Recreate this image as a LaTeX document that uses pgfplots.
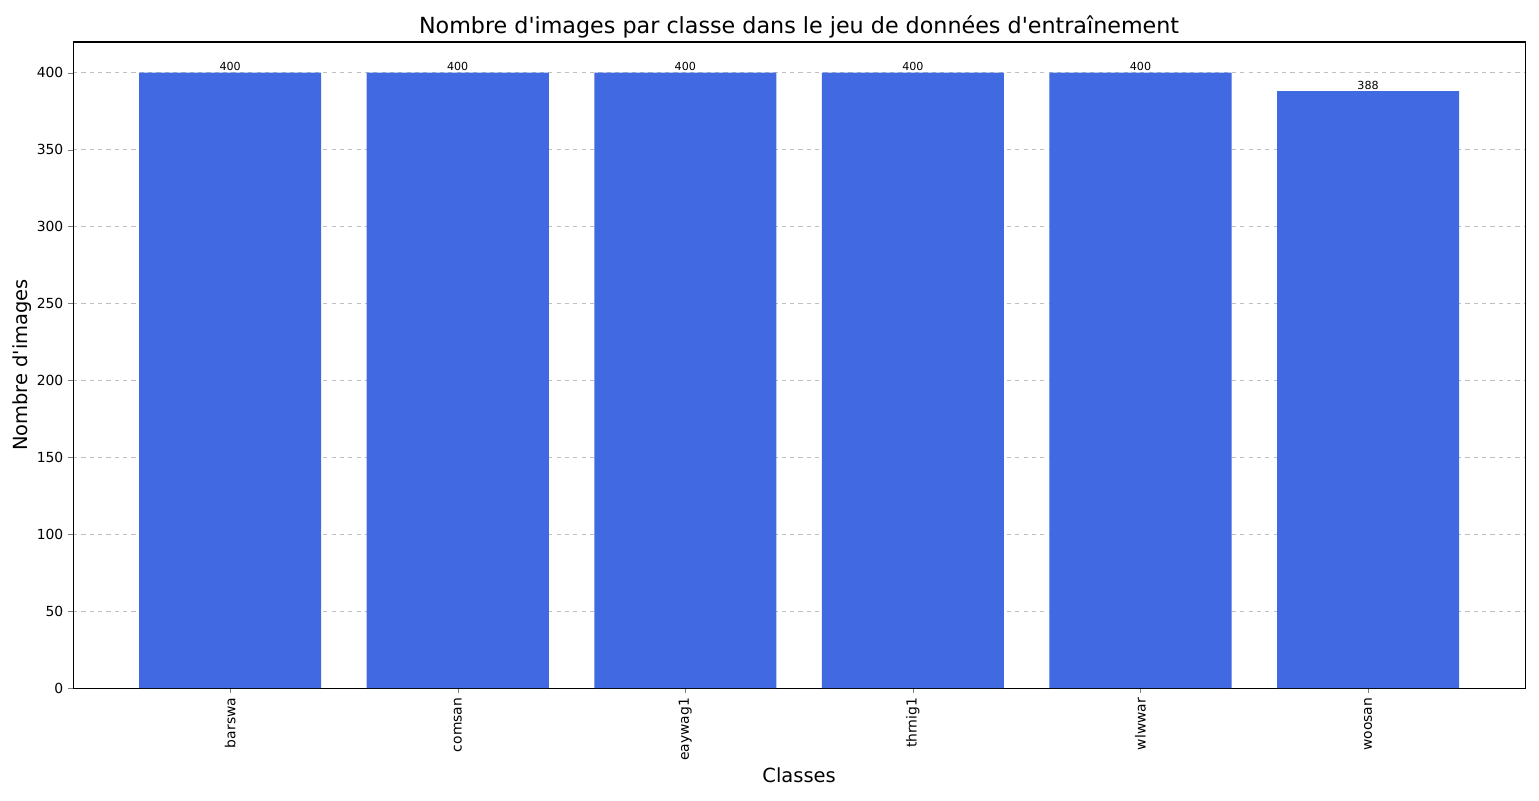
\documentclass[border=0pt]{standalone}
\usepackage{pgfplots}
\pgfplotsset{compat=1.18}
\usepackage{fontspec}
\setmainfont{DejaVu Sans}
\usetikzlibrary{calc}
\definecolor{royal}{HTML}{4169E1}
\begin{document}
\begin{tikzpicture}[x=1pt,y=1pt]
\begin{axis}[name=ax,
  scale only axis, width=1045pt, height=465pt,
  xmin=-0.69, xmax=5.69, ymin=0, ymax=420,
  xtick={0,1,2,3,4,5},
  xticklabels={barswa,comsan,eaywag1,thrnig1,wlwwar,woosan},
  xticklabel style={rotate=90, anchor=east, font=\fontsize{10}{12}\selectfont},
  yticklabel style={font=\fontsize{10}{12}\selectfont},
  /pgf/number format/assume math mode=true,
  ytick={0,50,...,400},
  tick align=outside, tick pos=left,
  major tick length=3.5pt,
  ymajorgrids, grid style={dashed, gray!50, line width=0.6pt},
  title={Nombre d\textquotesingle images par classe dans le jeu de données d\textquotesingle entraînement},
  title style={font=\fontsize{16}{19}\selectfont, yshift=-7pt},
  xlabel={Classes}, ylabel={Nombre d\textquotesingle images},
  xlabel style={font=\fontsize{14}{17}\selectfont, yshift=2pt},
  ylabel style={font=\fontsize{14}{17}\selectfont, yshift=-3pt},
  axis line style={line width=0.8pt},
  nodes near coords,
  nodes near coords style={font=\fontsize{8}{9}\selectfont, inner sep=1pt},
]
\addplot[ybar, bar width=0.8, fill=royal, draw=none] coordinates {
(0,400) (1,400) (2,400) (3,400) (4,400) (5,388)};
\end{axis}
\path[use as bounding box] ($(ax.south west)+(-52.6pt,-80.6pt)$) rectangle ($(ax.north east)+(10pt,30.2pt)$);
\end{tikzpicture}
\end{document}
